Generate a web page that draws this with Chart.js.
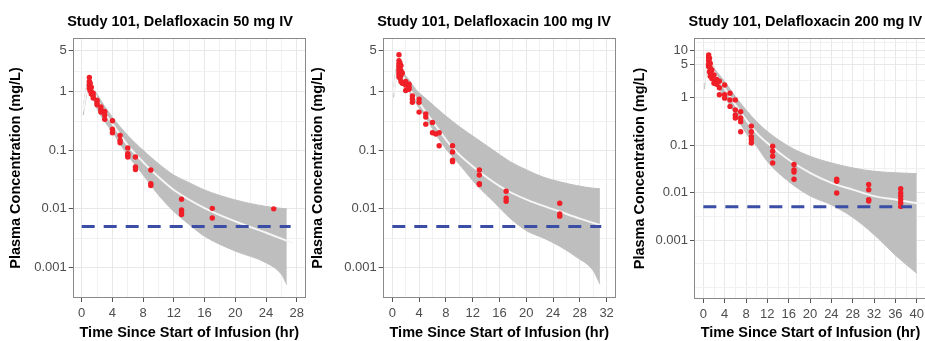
<!DOCTYPE html>
<html>
<head>
<meta charset="utf-8">
<script src="https://cdn.jsdelivr.net/npm/chart.js@4.4.1/dist/chart.umd.min.js"></script>
<style>
  html, body { margin: 0; padding: 0; background: #fff; overflow: hidden; }
  body { width: 925px; height: 341px; position: relative; }
  canvas { position: absolute; top: 0; }
</style>
</head>
<body>
<canvas id="c50" width="310" height="341" style="left:0px"></canvas>
<canvas id="c100" width="315" height="341" style="left:305px"></canvas>
<canvas id="c200" width="320" height="341" style="left:615px"></canvas>
<script>
/* ---- Data: Study 101, delafloxacin IV, observed vs simulated ---- */

const lloq = 0.005;

/* 50 mg */
const band50Time  = [0.2, 0.5, 0.9, 1.5, 2, 3, 4, 6, 8, 10, 12, 14, 16, 20, 24, 26, 26.7];
const band50Upper = [0.55, 1.0, 1.7, 1.15, 0.91, 0.56, 0.367, 0.18, 0.1, 0.059, 0.0377, 0.028, 0.021, 0.0142, 0.011, 0.0102, 0.01];
const band50Lower = [0.4, 0.7, 1.2, 0.75, 0.51, 0.31, 0.205, 0.082, 0.038, 0.0173, 0.009, 0.0054, 0.0034, 0.0019, 0.0012, 0.00076, 0.00051];
const med50Time   = [0.2, 0.5, 0.95, 2, 3, 4, 6, 8, 10, 12, 16, 20, 24, 27.5];
const med50Conc   = [0.47, 0.85, 1.5, 0.75, 0.43, 0.283, 0.122, 0.063, 0.035, 0.021, 0.0103, 0.0061, 0.0039, 0.0026];
const obs50Time = [1, 1, 1, 1, 1.1, 1.1, 1.25, 1.25, 1.25, 1.5, 1.5, 1.5, 2, 2, 2, 2.5, 2.5, 2.5, 3, 3, 3,
  4, 4, 4, 5, 5, 5, 6, 6, 6, 6, 7, 7, 7, 9, 9, 9, 13, 13, 13, 13, 17, 17, 25];
const obs50Conc = [1.75, 1.5, 1.3, 1.15, 1.4, 1.05, 1.2, 1.0, 0.92, 0.95, 0.85, 0.78, 0.72, 0.65, 0.6, 0.55, 0.5, 0.45, 0.46, 0.4, 0.34,
  0.32, 0.23, 0.2, 0.18, 0.148, 0.135, 0.11, 0.088, 0.082, 0.077, 0.077, 0.052, 0.047, 0.046, 0.027, 0.025, 0.0146, 0.0096, 0.0088, 0.008, 0.0102, 0.007, 0.01];
const lloq50Time = [0, 27.2];
const x50Ticks = [0, 4, 8, 12, 16, 20, 24, 28];
const x50Labels = ['0', '4', '8', '12', '16', '20', '24', '28'];
const y50Ticks = [0.001, 0.01, 0.1, 1, 5];
const y50Labels = ['0.001', '0.01', '0.1', '1', '5'];

/* 100 mg */
const band100Time  = [0.2, 0.5, 0.9, 1.6, 2.5, 3.5, 5.1, 7.6, 10.1, 12.6, 15.1, 17.6, 20.1, 22.5, 25, 27.5, 30, 31];
const band100Upper = [1.2, 2.2, 3.4, 2.2, 1.6, 1.1, 0.75, 0.42, 0.25, 0.158, 0.1, 0.064, 0.046, 0.035, 0.029, 0.025, 0.0225, 0.022];
const band100Lower = [0.8, 1.5, 2.4, 1.5, 1.0, 0.65, 0.344, 0.122, 0.056, 0.0256, 0.0133, 0.0069, 0.0042, 0.0032, 0.0023, 0.0015, 0.00088, 0.00052];
const med100Time   = [0.2, 0.5, 0.95, 2, 3, 4, 5, 7, 9, 13, 17, 21, 25, 28, 31];
const med100Conc   = [0.95, 1.8, 2.8, 1.4, 0.95, 0.65, 0.45, 0.22, 0.11, 0.043, 0.021, 0.013, 0.009, 0.0068, 0.0053];
const obs100Time = [1, 1, 1, 1, 1, 1, 1, 1, 1.15, 1.15, 1.15, 1.15, 1.3, 1.3, 1.3, 1.3, 1.5, 1.5, 2, 2, 2, 2.5, 2.5, 2.5,
  3, 3, 3, 4, 4, 4, 5, 5, 5, 6, 6, 6.5, 7, 7, 9, 9, 9, 9, 13, 13, 13, 13, 17, 17, 17, 25, 25, 25];
const obs100Conc = [4.3, 3.4, 3.0, 2.7, 2.4, 2.2, 2.0, 1.8, 3.1, 2.6, 2.0, 1.7, 2.8, 2.3, 1.9, 1.5, 2.1, 1.4, 1.5, 1.3, 1.05, 1.35, 1.2, 1.1,
  0.85, 0.75, 0.66, 0.75, 0.66, 0.45, 0.42, 0.37, 0.28, 0.3, 0.2, 0.19, 0.2, 0.12, 0.12, 0.094, 0.068, 0.064, 0.046, 0.038, 0.027, 0.026,
  0.02, 0.0152, 0.0135, 0.0125, 0.0082, 0.0075];
const lloq100Time = [0, 31.2];
const x100Ticks = [0, 4, 8, 12, 16, 20, 24, 28, 32];
const x100Labels = ['0', '4', '8', '12', '16', '20', '24', '28', '32'];
const y100Ticks = [0.001, 0.01, 0.1, 1, 5];
const y100Labels = ['0.001', '0.01', '0.1', '1', '5'];

/* 200 mg */
const band200Time  = [0.2, 0.5, 0.9, 1.5, 2, 3, 4, 6, 8, 10, 12, 16, 20, 24, 28, 32, 36, 40];
const band200Upper = [2.5, 5, 8.5, 5.5, 4.2, 3.0, 2.17, 1.05, 0.55, 0.31, 0.193, 0.094, 0.058, 0.042, 0.033, 0.028, 0.026, 0.025];
const band200Lower = [1.5, 3.0, 5.5, 3.2, 2.3, 1.5, 1.05, 0.43, 0.18, 0.094, 0.045, 0.017, 0.0085, 0.0055, 0.003, 0.0013, 0.00048, 0.0002];
const med200Time   = [0.2, 0.5, 0.95, 2, 4, 6, 8, 10, 12, 16, 20, 24, 28, 32, 36, 40, 42];
const med200Conc   = [2, 4, 7.2, 3.5, 1.57, 0.7, 0.34, 0.178, 0.11, 0.049, 0.026, 0.016, 0.0115, 0.0084, 0.0071, 0.006, 0.0058];
const obs200Time = [1, 1, 1, 1, 1, 1.15, 1.15, 1.15, 1.15, 1.3, 1.3, 1.3, 1.3, 1.6, 1.6, 1.6, 2, 2, 2, 2.5, 2.5, 3, 3, 3,
  4, 4, 4, 5, 5, 5, 6, 6, 6, 6, 7, 7, 7, 7, 9, 9, 9, 9, 9, 13, 13, 13, 13, 17, 17, 17, 17, 25, 25, 25,
  31, 31, 31, 31, 37, 37, 37, 37, 37, 37];
const obs200Conc = [7.9, 7.0, 6.0, 5.0, 4.5, 6.7, 5.5, 4.5, 3.5, 5.2, 4.2, 3.3, 2.8, 3.8, 3.0, 2.5, 3.0, 2.35, 2.0, 2.4, 1.9, 2.2, 1.6, 1.14,
  1.84, 1.14, 0.97, 1.23, 0.89, 0.65, 0.89, 0.55, 0.43, 0.37, 0.5, 0.37, 0.31, 0.19, 0.25, 0.19, 0.15, 0.13, 0.11,
  0.094, 0.074, 0.058, 0.042, 0.039, 0.03, 0.027, 0.019, 0.019, 0.0173, 0.0098,
  0.0147, 0.0115, 0.0071, 0.0066, 0.012, 0.0098, 0.0084, 0.0071, 0.006, 0.0051];
const lloq200Time = [0, 39.1];
const x200Ticks = [0, 4, 8, 12, 16, 20, 24, 28, 32, 36, 40];
const x200Labels = ['0', '4', '8', '12', '16', '20', '24', '28', '32', '36', '40'];
const y200Ticks = [0.001, 0.01, 0.1, 1, 5, 10];
const y200Labels = ['0.001', '0.01', '0.1', '1', '5', '10'];

/* ---- Styling ---- */
const COLORS = {
  obs: '#f01e26',
  median: '#f6f6f6',
  band: '#bebebe',
  lloq: '#3b4ea6',
  grid: '#e8e8e8',
  gridMinor: '#f1f1f1',
  frame: '#8a8a8a',
  tick: '#555555',
  text: '#000000',
  tickText: '#4d4d4d'
};
const FONT = "'Liberation Sans', Arial, Helvetica, sans-serif";
Chart.defaults.font.family = FONT;
Chart.defaults.color = COLORS.tickText;

/* ---- Helpers ---- */
const zip = (xs, ys) => xs.map((x, i) => ({ x, y: ys[i] }));
const near = (a, b) => Math.abs(a - b) < 1e-9 * Math.max(1, Math.abs(b));

// ggplot-style minor breaks: midpoints between majors (log space), plus one step beyond each end
function minorBreaks(majors, min, max, log) {
  const f = log ? Math.log10 : v => v;
  const inv = log ? v => Math.pow(10, v) : v => v;
  const t = majors.map(f);
  const n = t.length;
  const ext = [t[0] - (t[1] - t[0]), ...t, t[n - 1] + (t[n - 1] - t[n - 2])];
  const out = [];
  for (let i = 0; i < ext.length - 1; i++) out.push(ext[i], (ext[i] + ext[i + 1]) / 2);
  out.push(ext[ext.length - 1]);
  return out.map(inv).filter(v => v >= min && v <= max && !majors.some(m => near(m, v)));
}

function gridFor(majors) {
  const isMajor = ctx => ctx.tick && majors.some(m => near(m, ctx.tick.value));
  return {
    color: ctx => isMajor(ctx) ? COLORS.grid : COLORS.gridMinor,
    lineWidth: 1,
    drawTicks: true,
    tickLength: 4,
    tickColor: ctx => isMajor(ctx) ? COLORS.tick : 'rgba(0,0,0,0)',
    tickWidth: 1
  };
}

function makePanel(id, p) {
  const titlePlugin = {
    id: 'panelTitle',
    afterDraw(chart) {
      const c = chart.ctx;
      c.save();
      c.font = 'bold 14.5px ' + FONT;
      c.fillStyle = COLORS.text;
      c.textBaseline = 'alphabetic';
      c.textAlign = 'left';
      c.fillText(p.title, chart.chartArea.left - 5.5, 26);
      c.restore();
    }
  };
  const framePlugin = {
    id: 'panelFrame',
    afterDatasetsDraw(chart) {
      const a = chart.chartArea, c = chart.ctx;
      c.save();
      c.strokeStyle = COLORS.frame;
      c.lineWidth = 1;
      c.strokeRect(Math.round(a.left) + 0.5, Math.round(a.top) + 0.5,
        Math.round(a.right - a.left) - 1, Math.round(a.bottom - a.top) - 1);
      c.restore();
    }
  };

  const xMinor = minorBreaks(p.xTicks, p.xMin, p.xMax, false);
  const yMinor = minorBreaks(p.yTicks, p.yMin, p.yMax, true);

  return new Chart(document.getElementById(id), {
    type: 'scatter',
    data: {
      datasets: [
        { data: zip(p.bandTime, p.bandUpper), showLine: true, fill: '+1', backgroundColor: COLORS.band,
          borderColor: COLORS.band, borderWidth: 1, pointRadius: 0, cubicInterpolationMode: 'monotone', order: 4 },
        { data: zip(p.bandTime, p.bandLower), showLine: true, fill: false,
          borderColor: COLORS.band, borderWidth: 1, pointRadius: 0, cubicInterpolationMode: 'monotone', order: 3 },
        { data: zip(p.medTime, p.medConc), showLine: true, fill: false,
          borderColor: COLORS.median, borderWidth: 2, pointRadius: 0, cubicInterpolationMode: 'monotone', order: 2 },
        { data: zip(p.obsTime, p.obsConc), showLine: false,
          pointRadius: 2.7, pointBackgroundColor: COLORS.obs, pointBorderWidth: 0, order: 1 },
        { data: zip(p.lloqTime, p.lloqTime.map(() => lloq)), showLine: true, fill: false,
          borderColor: COLORS.lloq, borderWidth: 3, borderDash: [13, 9], borderCapStyle: 'butt', pointRadius: 0, order: 0 }
      ]
    },
    options: {
      responsive: false,
      animation: false,
      devicePixelRatio: 1,
      layout: { padding: { top: 38, right: p.padRight, bottom: 0, left: 0 } },
      plugins: { legend: { display: false }, tooltip: { enabled: false }, title: { display: false } },
      scales: {
        x: {
          type: 'linear', min: p.xMin, max: p.xMax,
          afterBuildTicks: s => { s.ticks = [...p.xTicks, ...xMinor].sort((a, b) => a - b).map(v => ({ value: v })); },
          afterFit: s => { s.height = p.xHeight; },
          ticks: {
            autoSkip: false, maxRotation: 0, padding: 3.5,
            font: { size: 13 }, color: COLORS.tickText,
            callback: v => { const i = p.xTicks.findIndex(m => near(m, v)); return i >= 0 ? p.xLabels[i] : ''; }
          },
          grid: gridFor(p.xTicks),
          border: { display: false },
          title: { display: true, text: 'Time Since Start of Infusion (hr)', color: COLORS.text,
            font: { size: 14.5, weight: 'bold', lineHeight: 1.1 }, padding: { top: 0, bottom: 0.5 } }
        },
        y: {
          type: 'logarithmic', min: p.yMin, max: p.yMax,
          afterBuildTicks: s => { s.ticks = [...p.yTicks, ...yMinor].sort((a, b) => a - b).map(v => ({ value: v })); },
          afterFit: s => { s.width = p.yWidth; },
          ticks: {
            autoSkip: false, padding: 2,
            font: { size: 13 }, color: COLORS.tickText,
            callback: v => { const i = p.yTicks.findIndex(m => near(m, v)); return i >= 0 ? p.yLabels[i] : ''; }
          },
          grid: gridFor(p.yTicks),
          border: { display: false },
          title: { display: true, text: 'Plasma Concentration (mg/L)', color: COLORS.text,
            font: { size: 14.5, weight: 'bold', lineHeight: 1.2 }, padding: { top: p.yTitlePad, bottom: 0 } }
        }
      }
    },
    plugins: [titlePlugin, framePlugin]
  });
}

makePanel('c50', {
  title: 'Study 101, Delafloxacin 50 mg IV',
  bandTime: band50Time, bandUpper: band50Upper, bandLower: band50Lower,
  medTime: med50Time, medConc: med50Conc, obsTime: obs50Time, obsConc: obs50Conc, lloqTime: lloq50Time,
  xMin: -1.17, xMax: 29.2, xTicks: x50Ticks, xLabels: x50Labels,
  yMin: 3.45e-4, yMax: 8.3, yTicks: y50Ticks, yLabels: y50Labels,
  yWidth: 72.7, yTitlePad: 7.3, padRight: 4, xHeight: 43
});

makePanel('c100', {
  title: 'Study 101, Delafloxacin 100 mg IV',
  bandTime: band100Time, bandUpper: band100Upper, bandLower: band100Lower,
  medTime: med100Time, medConc: med100Conc, obsTime: obs100Time, obsConc: obs100Conc, lloqTime: lloq100Time,
  xMin: -1.43, xMax: 33.4, xTicks: x100Ticks, xLabels: x100Labels,
  yMin: 3.45e-4, yMax: 8.3, yTicks: y100Ticks, yLabels: y100Labels,
  yWidth: 77.7, yTitlePad: 3.8, padRight: 4, xHeight: 43
});

makePanel('c200', {
  title: 'Study 101, Delafloxacin 200 mg IV',
  bandTime: band200Time, bandUpper: band200Upper, bandLower: band200Lower,
  medTime: med200Time, medConc: med200Conc, obsTime: obs200Time, obsConc: obs200Conc, lloqTime: lloq200Time,
  xMin: -1.75, xMax: 41.93, xTicks: x200Ticks, xLabels: x200Labels,
  yMin: 5.73e-5, yMax: 17.9, yTicks: y200Ticks, yLabels: y200Labels,
  yWidth: 79, yTitlePad: 16.3, padRight: 8, xHeight: 42
});
</script>
</body>
</html>
